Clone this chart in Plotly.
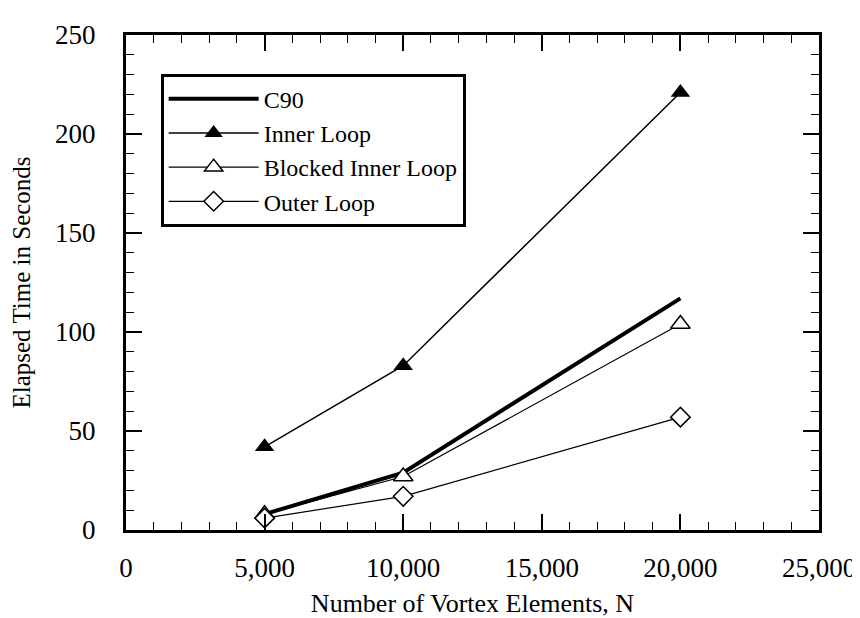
import plotly.graph_objects as go

n_elements = [5000, 10000, 20000]
c90 = [8, 29, 117]
inner_loop = [42, 83, 221]
blocked_inner_loop = [8, 27, 104]
outer_loop = [6, 17, 57]

x_ticks = [0, 5000, 10000, 15000, 20000, 25000]
x_tick_labels = ["0", "5,000", "10,000", "15,000", "20,000", "25,000"]
y_ticks = [0, 50, 100, 150, 200, 250]

font_family = "Liberation Serif, Times New Roman, serif"

fig = go.Figure()
fig.add_trace(go.Scatter(x=n_elements, y=c90, name="C90", mode="lines",
                         line=dict(color="black", width=4)))
fig.add_trace(go.Scatter(x=n_elements, y=inner_loop, name="Inner Loop", mode="lines+markers",
                         line=dict(color="black", width=1.5),
                         marker=dict(symbol="triangle-up", size=17, color="black")))
fig.add_trace(go.Scatter(x=n_elements, y=blocked_inner_loop, name="Blocked Inner Loop", mode="lines+markers",
                         line=dict(color="black", width=1.2),
                         marker=dict(symbol="triangle-up", size=17, color="white",
                                     line=dict(color="black", width=1.5))))
fig.add_trace(go.Scatter(x=n_elements, y=outer_loop, name="Outer Loop", mode="lines+markers",
                         line=dict(color="black", width=1.2),
                         marker=dict(symbol="diamond", size=15, color="white",
                                     line=dict(color="black", width=1.5))))

axis_common = dict(showline=True, linecolor="black", linewidth=3, mirror="ticks",
                   ticks="inside", ticklen=16, tickwidth=1.5, tickcolor="black",
                   showgrid=False, zeroline=False,
                   tickfont=dict(family=font_family, size=27, color="black"))

fig.update_xaxes(range=[0, 25000], tickvals=x_ticks, ticktext=x_tick_labels,
                 minor=dict(dtick=1000, ticks="inside", ticklen=8, tickwidth=1.2, tickcolor="black"),
                 ticklabelstandoff=12,
                 title=dict(text="Number of Vortex Elements, N", standoff=12,
                            font=dict(family=font_family, size=26, color="black")),
                 **axis_common)
fig.update_yaxes(range=[0, 250], tickvals=y_ticks,
                 minor=dict(dtick=10, ticks="inside", ticklen=8, tickwidth=1.2, tickcolor="black"),
                 ticklabelstandoff=22,
                 title=dict(text="Elapsed Time in Seconds", standoff=18,
                            font=dict(family=font_family, size=25, color="black")),
                 **axis_common)

fig.update_layout(
    width=860, height=618,
    margin=dict(l=118, r=43, t=23, b=94),
    plot_bgcolor="white", paper_bgcolor="white",
    font=dict(family=font_family, color="black"),
    legend=dict(x=0.05, y=0.922, xanchor="left", yanchor="top",
                bgcolor="white", bordercolor="black", borderwidth=3,
                font=dict(family=font_family, size=24, color="black"),
                itemwidth=90),
)

fig.write_html("out.html")
